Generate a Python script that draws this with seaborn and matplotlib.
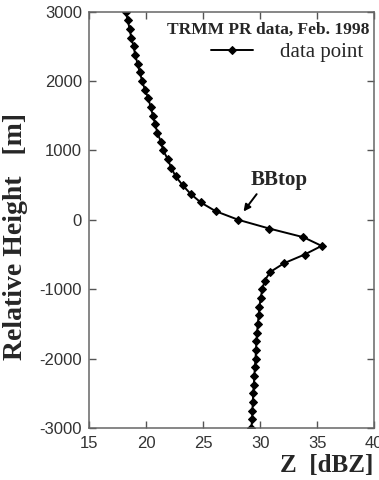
import numpy as np
import pandas as pd
import seaborn as sns
import matplotlib
matplotlib.use("Agg")
import matplotlib.pyplot as plt

# profile (125 m steps, top to bottom)
height = [3000, 2875, 2750, 2625, 2500, 2375, 2250, 2125, 2000, 1875,
          1750, 1625, 1500, 1375, 1250, 1125, 1000, 875, 750, 625,
          500, 375, 250, 125, 0, -125, -250, -375, -500, -625,
          -750, -875, -1000, -1125, -1250, -1375, -1500, -1625, -1750, -1875,
          -2000, -2125, -2250, -2375, -2500, -2625, -2750, -2875, -3000]
dbz = [18.2, 18.4, 18.55, 18.7, 18.9, 19.05, 19.25, 19.45, 19.65, 19.9,
       20.2, 20.4, 20.6, 20.8, 21.0, 21.3, 21.5, 21.9, 22.2, 22.6,
       23.2, 23.9, 24.8, 26.1, 28.1, 30.8, 33.8, 35.4, 33.9, 32.1,
       30.9, 30.4, 30.2, 30.05, 29.95, 29.88, 29.8, 29.74, 29.68, 29.64,
       29.6, 29.54, 29.5, 29.45, 29.4, 29.36, 29.33, 29.3, 29.24]

xticks = [15, 20, 25, 30, 35, 40]
yticks = [-3000, -2000, -1000, 0, 1000, 2000, 3000]

sns.set_style("ticks")
plt.rcParams['font.family'] = ['Liberation Sans', 'DejaVu Sans']
plt.rcParams['axes.unicode_minus'] = False
serif = ['Liberation Serif', 'DejaVu Serif']

df = pd.DataFrame({"Z": dbz, "height": height})

fig = plt.figure(figsize=(3.79, 4.80), dpi=100)
ax = fig.add_axes([0.235, 0.108, 0.752, 0.868])

sns.lineplot(data=df, x="Z", y="height", sort=False, estimator=None,
             color="black", linewidth=1.4, marker="D", markersize=4.5,
             markeredgecolor="black", label="data point", ax=ax)

ax.set_xlim(15, 40)
ax.set_ylim(-3000, 3000)
ax.set_xticks(xticks)
ax.set_yticks(yticks)
ax.tick_params(direction="in", length=5, width=1, color="#555555",
               labelcolor="#333333", labelsize=12,
               top=True, right=True)
ax.tick_params(axis="x", pad=6)
ax.tick_params(axis="y", pad=5)
for s in ax.spines.values():
    s.set_color("#666666")
    s.set_linewidth(1.1)

ax.set_xlabel("")
ax.set_ylabel("Relative Height   [m]", family=serif, fontweight="bold",
              fontsize=20)
ax.yaxis.set_label_coords(-0.215, 0.46)
fig.text(0.985, 0.03, "Z  [dBZ]", family=serif, fontweight="bold",
         fontsize=18, ha="right", va="center")

ax.text(0.985, 0.955, "TRMM PR data, Feb. 1998", transform=ax.transAxes,
        family=serif, fontweight="bold", fontsize=12.5, ha="right", va="center")

leg = ax.legend(loc="upper right", bbox_to_anchor=(0.99, 0.945), frameon=False,
                prop={"family": serif, "size": 15}, handlelength=2.0,
                handletextpad=1.3, borderaxespad=0)

ax.text(29.2, 570, "BBtop", family=serif, fontweight="bold", fontsize=15,
        ha="left", va="center")
ax.annotate("", xy=(28.55, 120), xytext=(29.7, 370),
            arrowprops=dict(arrowstyle="-|>", color="black", lw=1.4,
                            mutation_scale=10, shrinkA=0, shrinkB=0))

fig.savefig("out.png", dpi=100)
